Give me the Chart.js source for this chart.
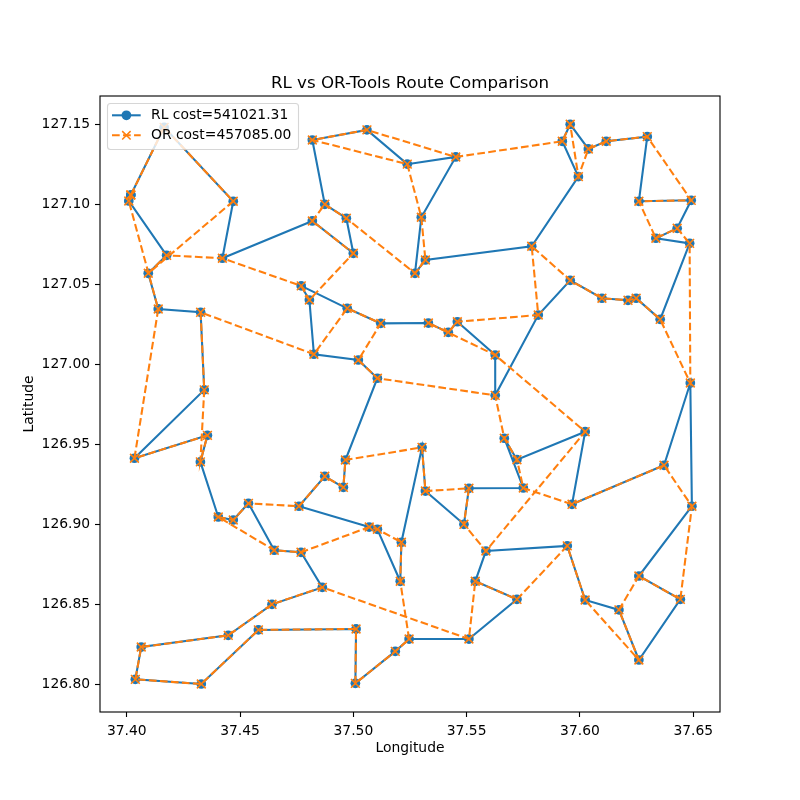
<!DOCTYPE html>
<html>
<head>
<meta charset="utf-8">
<style>html,body{margin:0;padding:0;background:#fff}canvas{display:block}</style>
<script src="https://cdn.jsdelivr.net/npm/chart.js@4"></script>
</head>
<body>
<canvas id="c" width="800" height="800" style="width:800px;height:800px"></canvas>
<script>
const stopLon = [
37.4018,37.4009,37.4165,37.4470,37.4176,37.4095,37.4139,37.4326,37.4342,37.4422,
37.4819,37.4874,37.4969,37.5000,37.4819,37.5060,37.5238,37.4770,37.4806,37.4973,
37.5121,37.4826,37.5022,37.5106,37.5452,37.5300,37.5318,37.5272,37.5787,37.5922,
37.5957,37.6037,37.6116,37.6297,37.5993,37.6260,37.6491,37.6429,37.6335,37.6484,
37.5957,37.6097,37.6212,37.6248,37.6354,37.5816,37.5331,37.5419,37.5459,37.5626,
37.5626,37.6487,37.4034,37.4356,37.4325,37.4404,37.4470,37.4537,37.4651,37.4769,
37.4863,37.4641,37.4448,37.4064,37.4038,37.4329,37.4581,37.5012,37.5009,37.5185,
37.5246,37.4760,37.4874,37.4956,37.4965,37.5070,37.5106,37.5212,37.5207,37.5303,
37.5318,37.5510,37.5750,37.5488,37.5585,37.5538,37.5722,37.5510,37.5666,37.5722,
37.6023,37.5965,37.6371,37.6494,37.5944,37.6023,37.6172,37.6260,37.6260,37.6443];
const stopLat = [
127.1056,127.1019,127.1479,127.1017,127.0679,127.0567,127.0344,127.0323,126.9838,127.0661,
127.0894,127.0998,127.0911,127.0692,127.1400,127.1463,127.1249,127.0488,127.0400,127.0348,
127.0254,127.0061,127.0025,126.9911,127.1294,127.0917,127.0650,127.0567,127.0736,127.1392,
127.1498,127.1344,127.1392,127.1421,127.1171,127.1017,127.1023,127.0848,127.0786,127.0754,
127.0523,127.0411,127.0398,127.0411,127.0279,127.0306,127.0256,127.0198,127.0264,127.0056,
126.9804,126.9881,126.9411,126.9554,126.9388,126.9044,126.9025,126.9129,126.8836,126.8823,
126.8604,126.8498,126.8304,126.8231,126.8029,126.8000,126.8338,126.8344,126.8004,126.8204,
126.8281,126.9111,126.9298,126.9229,126.9400,126.8981,126.8967,126.8886,126.8642,126.9479,
126.9206,126.9223,126.9225,126.8998,126.8831,126.8642,126.8529,126.8281,126.9536,126.9402,
126.9577,126.9123,126.9367,126.9111,126.8863,126.8525,126.8463,126.8150,126.8675,126.8529];
const rlRoute = [0,2,3,9,10,13,12,11,14,15,16,24,25,27,26,28,34,29,30,31,32,33,35,36,37,38,39,44,43,42,41,40,45,50,49,48,47,46,20,19,17,18,21,22,23,74,73,72,71,75,76,78,77,79,80,83,81,82,88,89,90,91,92,51,93,98,99,97,96,95,94,84,85,86,87,70,69,68,67,66,65,64,63,62,61,60,59,58,57,56,55,54,53,52,8,7,6,5,4,1,0];
const orRoute = [0,2,3,5,4,9,17,18,13,10,11,12,27,26,25,16,14,15,24,29,30,34,31,32,33,36,35,38,37,39,51,44,43,42,41,40,28,45,48,47,46,49,90,84,83,81,80,79,74,73,72,71,57,56,55,58,59,75,76,77,78,70,69,68,67,66,65,64,63,62,61,60,87,85,86,94,95,97,96,98,99,93,92,91,82,89,88,50,23,22,20,19,21,7,8,54,53,52,6,1,0];
const rlLabel = "RL cost=541021.31";
const orLabel = "OR cost=457085.00";
const xLimits = [37.3882, 37.6618];
const yLimits = [126.7825, 127.1675];
const tickStep = 0.05;
const chartTitle = "RL vs OR-Tools Route Comparison";
const xTitle = "Longitude";
const yTitle = "Latitude";

const FONT = "'DejaVu Sans'";
const BLUE = "#1f77b4", ORANGE = "#ff7f0e";
const toPts = r => r.map(i => ({x: stopLon[i], y: stopLat[i]}));

const framePlugin = {
  id: 'frame',
  afterDraw(chart) {
    const a = chart.chartArea, ctx = chart.ctx;
    ctx.save();
    ctx.strokeStyle = '#000'; ctx.lineWidth = 1.11; ctx.setLineDash([]);
    ctx.strokeRect(a.left, a.top, a.right - a.left, a.bottom - a.top);
    // legend box
    const bx = 107.5, by = 103.5, bw = 191, bh = 46, r = 3;
    ctx.beginPath(); ctx.roundRect(bx, by, bw, bh, r);
    ctx.fillStyle = 'rgba(255,255,255,0.8)'; ctx.fill();
    ctx.strokeStyle = 'rgba(204,204,204,0.8)'; ctx.lineWidth = 1.11; ctx.stroke();
    const ds = chart.data.datasets, rows = [115.3, 135.3];
    ds.forEach((d, i) => {
      const y = rows[i];
      ctx.strokeStyle = d.borderColor; ctx.lineWidth = 2.08;
      ctx.setLineDash(d.borderDash || []);
      ctx.beginPath(); ctx.moveTo(112, y); ctx.lineTo(140.7, y); ctx.stroke();
      ctx.setLineDash([]);
      if (d.pointStyle === 'circle') {
        ctx.fillStyle = d.borderColor;
        ctx.beginPath(); ctx.arc(126.4, y, 4.86, 0, Math.PI * 2); ctx.fill();
      } else {
        ctx.lineWidth = 1.5;
        ctx.beginPath();
        ctx.moveTo(122.2, y - 4.2); ctx.lineTo(130.6, y + 4.2);
        ctx.moveTo(122.2, y + 4.2); ctx.lineTo(130.6, y - 4.2);
        ctx.stroke();
      }
      ctx.fillStyle = '#000'; ctx.font = "13.89px " + FONT;
      ctx.textAlign = 'left'; ctx.textBaseline = 'middle';
      ctx.fillText(d.label, 151, y + 0.5);
    });
    ctx.restore();
  }
};

new Chart(document.getElementById('c'), {
  type: 'scatter',
  data: { datasets: [
    { label: rlLabel, data: toPts(rlRoute), showLine: true, order: 2,
      borderColor: BLUE, backgroundColor: BLUE, borderWidth: 2.08,
      pointStyle: 'circle', pointRadius: 4.86, pointBorderWidth: 0,
      pointBackgroundColor: BLUE, pointBorderColor: BLUE, tension: 0 },
    { label: orLabel, data: toPts(orRoute), showLine: true, order: 1,
      borderColor: ORANGE, backgroundColor: ORANGE, borderWidth: 2.08,
      borderDash: [7.7, 3.33],
      pointStyle: 'crossRot', pointRadius: 6.2, pointBorderWidth: 1.6,
      pointBorderColor: ORANGE, tension: 0 }
  ]},
  options: {
    responsive: false, animation: false, devicePixelRatio: 1,
    layout: { padding: { left: 0, right: 80, top: 0, bottom: 0 } },
    plugins: {
      legend: { display: false },
      tooltip: { enabled: false },
      title: { display: true, fullSize: false, text: chartTitle, color: '#000',
        font: { family: FONT, size: 16.67, weight: 'normal', lineHeight: 1.2 },
        padding: { top: 74, bottom: 2 } }
    },
    scales: {
      x: { type: 'linear', min: xLimits[0], max: xLimits[1],
        afterFit(s) { s.height = 88; },
        border: { display: false },
        grid: { drawOnChartArea: false, drawTicks: true, tickLength: 5, tickColor: '#000', tickWidth: 1.11 },
        ticks: { stepSize: tickStep, includeBounds: false, autoSkip: false, maxRotation: 0, padding: 5.86,
          color: '#000', font: { family: FONT, size: 13.89 }, callback: v => v.toFixed(2) },
        title: { display: true, text: xTitle, color: '#000',
          font: { family: FONT, size: 13.89 }, padding: { top: 0, bottom: 43.5 } } },
      y: { type: 'linear', min: yLimits[0], max: yLimits[1],
        afterFit(s) { s.width = 100; },
        border: { display: false },
        grid: { drawOnChartArea: false, drawTicks: true, tickLength: 5, tickColor: '#000', tickWidth: 1.11 },
        ticks: { stepSize: tickStep, includeBounds: false, autoSkip: false, padding: 4.86,
          color: '#000', font: { family: FONT, size: 13.89 }, callback: v => v.toFixed(2) },
        title: { display: true, text: yTitle, color: '#000',
          font: { family: FONT, size: 13.89 }, padding: { top: 20.7, bottom: 0 } } }
    }
  },
  plugins: [framePlugin]
});
</script>
</body>
</html>
